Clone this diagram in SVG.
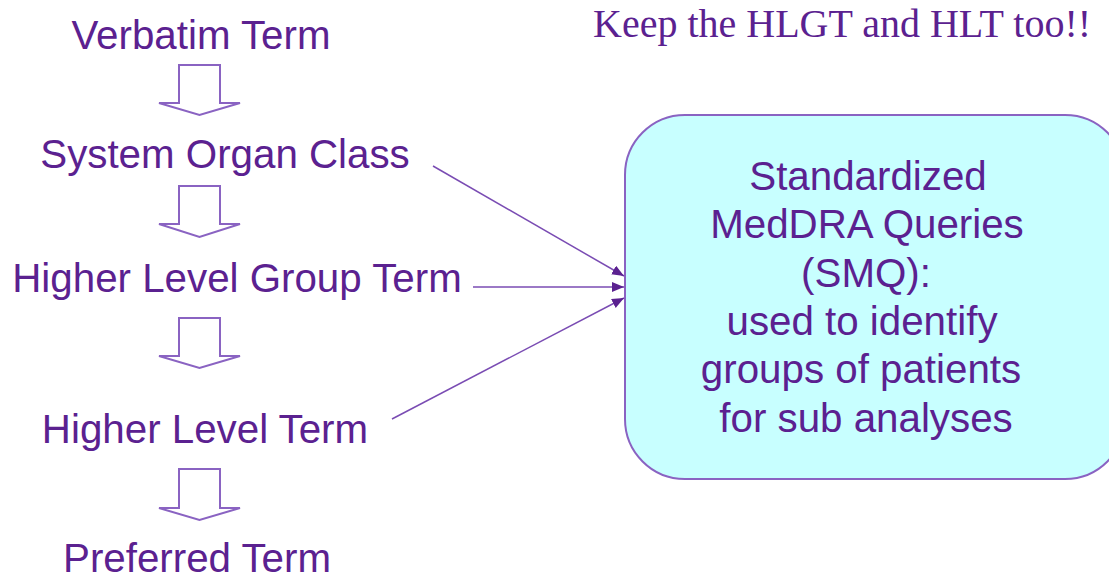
<svg xmlns="http://www.w3.org/2000/svg" width="1109" height="577" viewBox="0 0 1109 577">
<defs>
<style>
.t{font-family:"Liberation Sans",Arial,sans-serif;font-size:40.3px;fill:#5B2190;text-anchor:middle}
.s{font-family:"Liberation Serif","Times New Roman",serif;font-size:40px;fill:#5B2190}
.blk{fill:#ffffff;stroke:#8A63C2;stroke-width:2}
.con{stroke:#7A4CB3;stroke-width:1.5;fill:none}
</style>
<marker id="ah2" viewBox="0 0 10 10" refX="10" refY="5" markerWidth="12" markerHeight="10" markerUnits="userSpaceOnUse" orient="auto" preserveAspectRatio="none">
<path d="M0,0 L10,5 L0,10 Z" fill="#5B2190"/>
</marker>
</defs>
<rect width="1109" height="577" fill="#ffffff"/>
<text class="s" x="593" y="37">Keep the HLGT and HLT too!!</text>
<g id="verbatim"><text class="t" x="201" y="49">Verbatim Term</text></g>
<g id="soc"><text class="t" x="225" y="168">System Organ Class</text></g>
<g id="hlgt"><text class="t" x="237" y="292">Higher Level Group Term</text></g>
<g id="hlt"><text class="t" x="205" y="443">Higher Level Term</text></g>
<g id="pt"><text class="t" x="197" y="572">Preferred Term</text></g>
<g id="smq">
<rect x="625" y="115" width="500" height="364" rx="60" ry="60" fill="#C8FFFF" stroke="#8A63C2" stroke-width="2"/>
<text class="t" x="868" y="190">Standardized</text>
<text class="t" x="867" y="238">MedDRA Queries</text>
<text class="t" x="866" y="287">(SMQ):</text>
<text class="t" x="862" y="335">used to identify</text>
<text class="t" x="861" y="383">groups of patients</text>
<text class="t" x="866" y="432">for sub analyses</text>
</g>
<g id="connectors">
<path class="blk" d="M179,65 H220 V103 H240 L199.5,115 L159,103 H179 Z"/>
<path class="blk" d="M179,186 H220 V224 H240 L199.5,237 L159,224 H179 Z"/>
<path class="blk" d="M179,318 H220 V356 H240 L199.5,368 L159,356 H179 Z"/>
<path class="blk" d="M179,469 H220 V508 H240 L199.5,520 L159,508 H179 Z"/>
<line class="con" x1="433" y1="166" x2="624" y2="276" marker-end="url(#ah2)"/>
<line class="con" x1="473" y1="287" x2="624" y2="287" marker-end="url(#ah2)"/>
<line class="con" x1="392" y1="419" x2="624" y2="298" marker-end="url(#ah2)"/>
</g>
</svg>
